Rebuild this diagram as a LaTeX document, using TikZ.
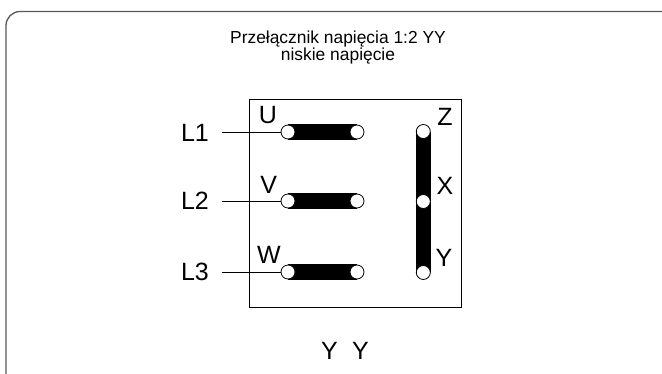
\documentclass[tikz,border=0pt]{standalone}
\usepackage{fontspec}
\setmainfont{Liberation Sans}
\tikzset{
  frameline/.style={draw=black!65,line width=1.3pt},
  lead/.style={draw=black,line width=0.8pt},
  bar/.style={draw=black,line width=15.5pt},
  term/.style={circle,draw=black,fill=white,line width=0.8pt,minimum size=14pt,inner sep=0pt},
  biglabel/.style={font=\fontsize{25}{28}\selectfont,text=black,inner sep=0pt},
  titletext/.style={font=\fontsize{17.4}{16.5}\selectfont,align=center,text=black,inner sep=0pt}
}
\begin{document}
\begin{tikzpicture}[x=1pt,y=-1pt]
\useasboundingbox (0,0) rectangle (662,373);
\clip (0,0) rectangle (662,373);
\fill[white] (0,0) rectangle (662,373);
\draw[frameline,rounded corners=14pt] (6,385) -- (6,11.5) -- (680,11.5);
\node[titletext] (title) at (338,47.5) {Przełącznik napięcia 1:2 YY\\niskie napięcie};
\node[draw=black,line width=1pt,minimum width=211.5pt,minimum height=208.5pt,inner sep=0pt,outer sep=0pt] (box) at (355.25,203.25) {};
\coordinate (cu1) at (288,132);
\coordinate (cu2) at (357,132);
\coordinate (cv1) at (288,201);
\coordinate (cv2) at (357,201);
\coordinate (cw1) at (288,272);
\coordinate (cw2) at (357,272);
\coordinate (cz) at (423.3,131.5);
\coordinate (cy) at (423.3,272.5);
\draw[bar] (cu1) -- (cu2);
\draw[bar] (cv1) -- (cv2);
\draw[bar] (cw1) -- (cw2);
\draw[bar] (cz) -- (cy);
\node[term] (u1) at (cu1) {};
\node[term] (u2) at (cu2) {};
\node[term] (v1) at (cv1) {};
\node[term] (v2) at (cv2) {};
\node[term] (w1) at (cw1) {};
\node[term] (w2) at (cw2) {};
\node[term] (z) at (cz) {};
\node[term] (x) at (423.3,201.5) {};
\node[term] (y) at (cy) {};
\node[biglabel] (l1) at (195,133) {L1};
\node[biglabel] (l2) at (195,201) {L2};
\node[biglabel] (l3) at (195,272) {L3};
\coordinate (a1) at (221.5,132);
\coordinate (a2) at (221.5,201);
\coordinate (a3) at (221.5,272);
\draw[lead] (a1) -- (u1.west);
\draw[lead] (a2) -- (v1.west);
\draw[lead] (a3) -- (w1.west);
\node[biglabel] (lu) at (268,115) {U};
\node[biglabel] (lv) at (268.7,185) {V};
\node[biglabel] (lw) at (269,254.5) {W};
\node[biglabel] (lz) at (445,117) {Z};
\node[biglabel] (lx) at (445,186) {X};
\node[biglabel] (ly) at (444,258) {Y};
\node[biglabel] (yy) at (345,351) {Y\hspace{14.3pt}Y};
\end{tikzpicture}
\end{document}
